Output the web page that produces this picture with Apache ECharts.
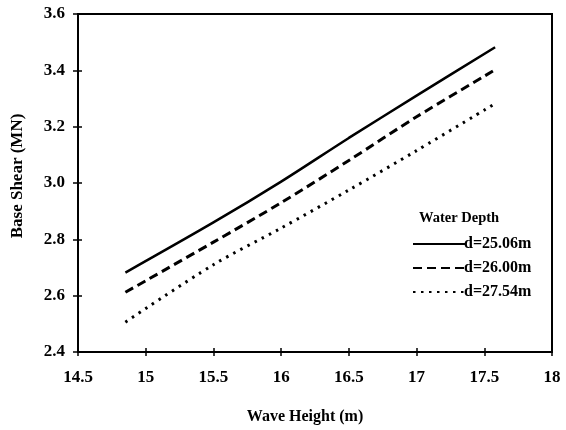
<!DOCTYPE html>
<html><head><meta charset="utf-8">
<script src="https://cdn.jsdelivr.net/npm/echarts@6/dist/echarts.min.js"></script>
<style>html,body{margin:0;padding:0;background:#fff}#c{width:566px;height:430px}</style>
</head><body><div id="c"></div>
<script>
var waveHeight = [14.85, 15.5, 16.0, 16.5, 17.0, 17.58];
var d2506 = [2.682, 2.86, 3.005, 3.16, 3.31, 3.482];
var d2600 = [2.612, 2.79, 2.93, 3.08, 3.235, 3.402];
var d2754 = [2.506, 2.71, 2.84, 2.975, 3.115, 3.282];
var seriesNames = ['d=25.06m', 'd=26.00m', 'd=27.54m'];
var legendTitle = 'Water Depth';
var xTitle = 'Wave Height (m)';
var yTitle = 'Base Shear (MN)';

function pairs(ys){ return waveHeight.map(function(x,i){ return [x, ys[i]]; }); }
var font = 'Liberation Serif';
var chart = echarts.init(document.getElementById('c'));
var axLine = {show:true, lineStyle:{color:'#000', width:2}};
chart.setOption({
  backgroundColor:'#fff',
  animation:false,
  title:{text:legendTitle, left:414, top:206, textStyle:{fontFamily:font, fontWeight:'bold', fontSize:14.5, color:'#000'}},
  grid:{left:78, right:14, top:14, bottom:76, show:true, borderColor:'#000', borderWidth:2},
  legend:{orient:'vertical', left:407, top:231, itemWidth:52, itemHeight:14, itemGap:8,
    itemStyle:{opacity:0},
    textStyle:{fontFamily:font, fontWeight:'bold', fontSize:16, color:'#000', padding:[0,0,0,-6]},
    data:seriesNames},
  xAxis:[{type:'value', min:14.5, max:18, interval:0.5, name:xTitle, nameLocation:'middle', nameGap:57,
    nameTextStyle:{fontFamily:font, fontWeight:'bold', fontSize:16, color:'#000', padding:[0,20,0,0]},
    axisLine:axLine, axisTick:{show:true, length:4, lineStyle:{color:'#000', width:1.5}},
    axisLabel:{fontFamily:font, fontWeight:'bold', fontSize:17, color:'#000', margin:17,
      formatter:function(v){return String(+v.toFixed(1));}},
    splitLine:{show:false}},
   {type:'value', min:14.5, max:18, interval:0.5, position:'bottom', axisLine:{show:false},
    axisTick:{show:true, inside:true, length:4, lineStyle:{color:'#000', width:1.5}}, axisLabel:{show:false}, splitLine:{show:false}}],
  yAxis:[{type:'value', min:2.4, max:3.6, interval:0.2, name:yTitle, nameLocation:'middle', nameGap:52,
    nameTextStyle:{fontFamily:font, fontWeight:'bold', fontSize:17, color:'#000', padding:[0,0,0,14]},
    axisLine:axLine, axisTick:{show:true, length:5, lineStyle:{color:'#000', width:1.5}},
    axisLabel:{fontFamily:font, fontWeight:'bold', fontSize:17, color:'#000', margin:13,
      formatter:function(v){return v.toFixed(1);}},
    splitLine:{show:false}},
   {type:'value', min:2.4, max:3.6, interval:0.2, position:'left', axisLine:{show:false},
    axisTick:{show:true, inside:true, length:4, lineStyle:{color:'#000', width:1.5}}, axisLabel:{show:false}, splitLine:{show:false}}],
  series:[
    {name:seriesNames[0], type:'line', data:pairs(d2506), symbol:'none', smooth:0.3,
      lineStyle:{color:'#000', width:2.5, type:'solid'}, itemStyle:{color:'#000'}},
    {name:seriesNames[1], type:'line', data:pairs(d2600), symbol:'none', smooth:0.3,
      lineStyle:{color:'#000', width:3, type:[9,5]}, itemStyle:{color:'#000'}},
    {name:seriesNames[2], type:'line', data:pairs(d2754), symbol:'none', smooth:0.3,
      lineStyle:{color:'#000', width:3, type:[2.5,5.5]}, itemStyle:{color:'#000'}}
  ]
});
</script></body></html>
